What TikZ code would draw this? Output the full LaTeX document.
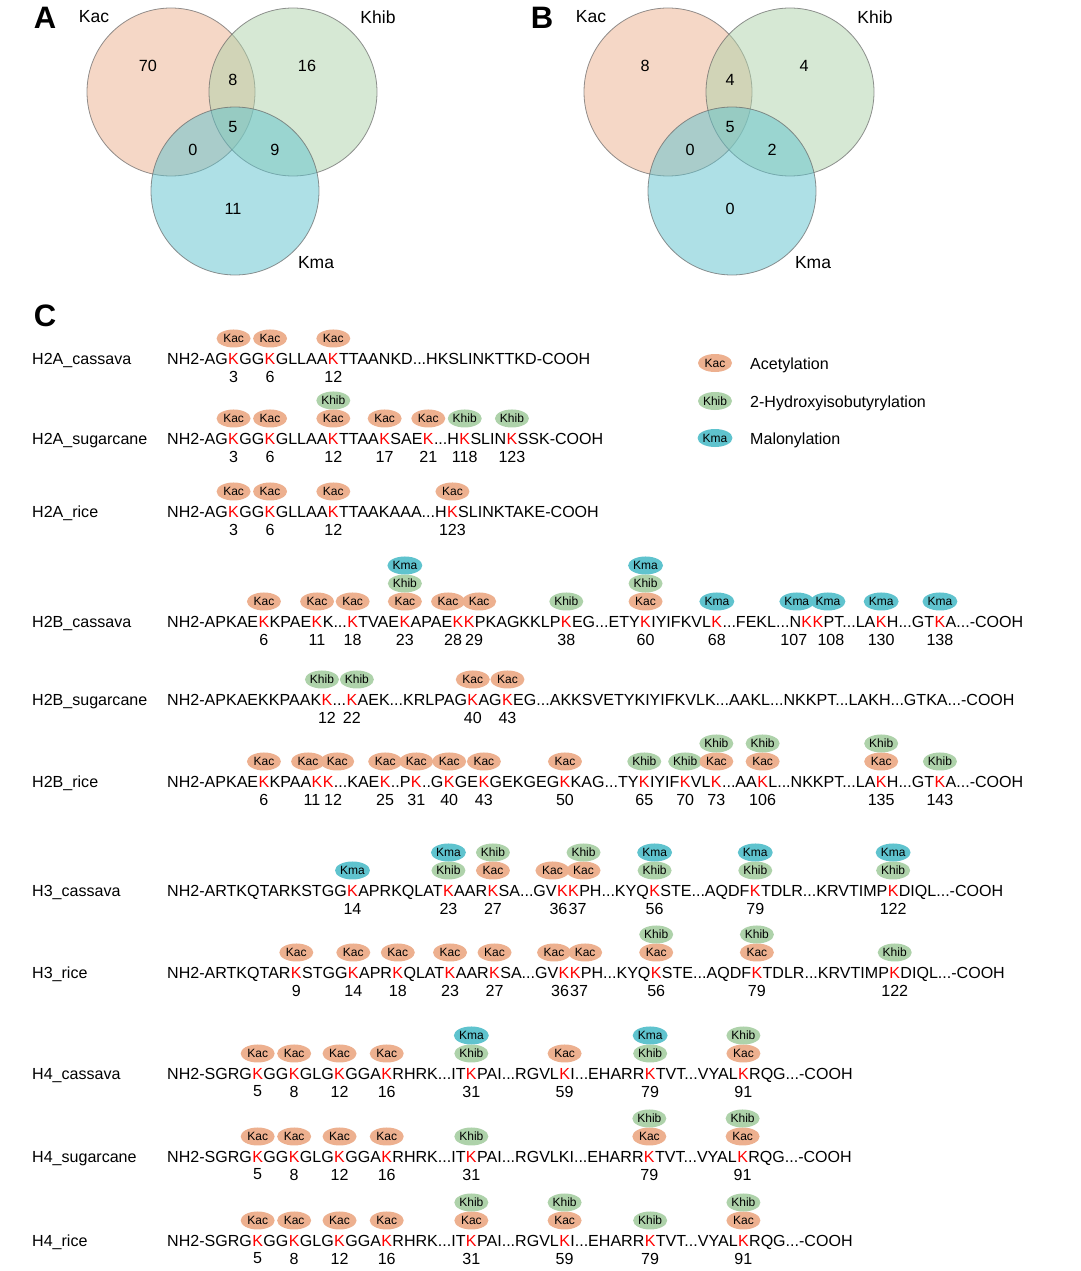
\documentclass[tikz,border=0pt]{standalone}
\usepackage{fontspec}
\setmainfont{Liberation Sans}
\usetikzlibrary{shapes.geometric}

\definecolor{Kac}{HTML}{EDB08F}
\definecolor{Khib}{HTML}{AED2AA}
\definecolor{Kma}{HTML}{5FC3CE}

% one row of panel C: name, then the sequence built piece by piece
\newcommand\seqrow[2]{%
  \node[rowname] (lab) at (32,#1) {#2};
  \coordinate (cur) at (167,#1);}
\newcommand\seqpart[1]{%
  \node[seq] (s) at (cur) {#1};
  \coordinate (cur) at (s.base east);}
% modified lysine: position, marks (bottom to top), shift of marks, shift of number
\newcommand\ksite[4]{%
  \node[seq, text=red] (k) at (cur) {K};
  \coordinate (cur) at (k.base east);
  \node[posnum] (n) at ([xshift=#4pt, yshift=-18pt]k.center) {#1};
  \foreach \mm [count=\i] in {#2}
    \node[mod=\mm] (m) at ([xshift=#3pt, yshift=2pt+\i*18pt]k.center) {\mm};}

\begin{document}
\begin{tikzpicture}[x=1pt, y=-1pt]
\tikzset{
  seq/.style={anchor=base west, inner sep=0pt, font=\fontsize{16.05}{19}\selectfont},
  rowname/.style={seq},
  posnum/.style={inner sep=0pt, font=\fontsize{16.05}{19}\selectfont},
  mod/.style={ellipse, fill=#1, inner sep=0pt, minimum width=34pt, minimum height=18pt,
    font=\fontsize{12}{14}\selectfont},
  venn/.style={fill opacity=0.5, draw=black!60, draw opacity=0.7, line width=0.8pt},
  vnum/.style={font=\fontsize{16.2}{19}\selectfont},
  vlab/.style={font=\fontsize{17.5}{21}\selectfont},
  panel/.style={font=\fontsize{31}{35}\selectfont\bfseries},
}
\fill[white] (0,0) rectangle (1080,1271);

% panels A and B
\foreach \dx/\p/\a/\b/\c/\ab/\bc/\ac/\abc in {0/A/70/16/11/8/9/0/5, 497/B/8/4/0/4/2/0/5} {
  \begin{scope}[xshift=\dx pt]
    \coordinate (cac) at (171,92);
    \coordinate (chib) at (293,92);
    \coordinate (cma) at (235,191);
    \draw[venn, fill=Kac] (cac) circle[radius=84pt];
    \draw[venn, fill=Khib] (chib) circle[radius=84pt];
    \draw[venn, fill=Kma] (cma) circle[radius=84pt];
    \node[panel] (pl) at (45,18) {\p};
    \node[vlab] (la) at (94,17) {Kac};
    \node[vlab] (lb) at (378,17) {Khib};
    \node[vlab] (lc) at (316,263) {Kma};
    \node[vnum] (na) at (148,66) {\a};
    \node[vnum] (nb) at (307,66) {\b};
    \node[vnum] (nc) at (233,209) {\c};
    \node[vnum] (nab) at (233,80) {\ab};
    \node[vnum] (nbc) at (275,150) {\bc};
    \node[vnum] (nac) at (193,150) {\ac};
    \node[vnum] (nabc) at (233,127) {\abc};
  \end{scope}
}

% panel C
\node[panel] (pc) at (45,316) {C};
\foreach \m/\t/\y in {Kac/Acetylation/363, Khib/2-Hydroxyisobutyrylation/401, Kma/Malonylation/438} {
  \node[mod=\m] (lg) at (715,\y) {\m};
  \node[seq] (lt) at (750,\y+6) {\t};
}

\seqrow{364}{H2A\_cassava}
\seqpart{NH2-AG}\ksite{3}{Kac}{0}{0}\seqpart{GG}\ksite{6}{Kac}{0}{0}\seqpart{GLLAA}\ksite{12}{Kac}{0}{0}%
\seqpart{TTAANKD...HKSLINKTTKD-COOH}

\seqrow{444}{H2A\_sugarcane}
\seqpart{NH2-AG}\ksite{3}{Kac}{0}{0}\seqpart{GG}\ksite{6}{Kac}{0}{0}\seqpart{GLLAA}\ksite{12}{Kac,Khib}{0}{0}%
\seqpart{TTAA}\ksite{17}{Kac}{0}{0}\seqpart{SAE}\ksite{21}{Kac}{0}{0}\seqpart{...H}\ksite{118}{Khib}{0}{0}%
\seqpart{SLIN}\ksite{123}{Khib}{0}{0}\seqpart{SSK-COOH}

\seqrow{517}{H2A\_rice}
\seqpart{NH2-AG}\ksite{3}{Kac}{0}{0}\seqpart{GG}\ksite{6}{Kac}{0}{0}\seqpart{GLLAA}\ksite{12}{Kac}{0}{0}%
\seqpart{TTAAKAAA...H}\ksite{123}{Kac}{0}{0}\seqpart{SLINKTAKE-COOH}

\seqrow{627}{H2B\_cassava}
\seqpart{NH2-APKAE}\ksite{6}{Kac}{0}{0}\seqpart{KPAE}\ksite{11}{Kac}{0}{0}\seqpart{K...}\ksite{18}{Kac}{0}{0}%
\seqpart{TVAE}\ksite{23}{Kac,Khib,Kma}{0}{0}\seqpart{APAE}\ksite{28}{Kac}{-10}{-5}\ksite{29}{Kac}{10}{5}%
\seqpart{PKAGKKLP}\ksite{38}{Khib}{0}{0}\seqpart{EG...ETY}\ksite{60}{Kac,Khib,Kma}{0}{0}%
\seqpart{IYIFKVL}\ksite{68}{Kma}{0}{0}\seqpart{...FEKL...N}\ksite{107}{Kma}{-10}{-13}\ksite{108}{Kma}{10}{13}%
\seqpart{PT...LA}\ksite{130}{Kma}{0}{0}\seqpart{H...GT}\ksite{138}{Kma}{0}{0}\seqpart{A...-COOH}

\seqrow{705}{H2B\_sugarcane}
\seqpart{NH2-APKAEKKPAAK}\ksite{12}{Khib}{-5}{0}\seqpart{...}\ksite{22}{Khib}{5}{0}%
\seqpart{AEK...KRLPAG}\ksite{40}{Kac}{0}{0}\seqpart{AG}\ksite{43}{Kac}{0}{0}%
\seqpart{EG...AKKSVETYKIYIFKVLK...AAKL...NKKPT...LAKH...GTKA...-COOH}

\seqrow{787}{H2B\_rice}
\seqpart{NH2-APKAE}\ksite{6}{Kac}{0}{0}\seqpart{KPAA}\ksite{11}{Kac}{-9}{-5}\ksite{12}{Kac}{9}{5}%
\seqpart{...KAE}\ksite{25}{Kac}{0}{0}\seqpart{..P}\ksite{31}{Kac}{0}{0}\seqpart{..G}\ksite{40}{Kac}{0}{0}%
\seqpart{GE}\ksite{43}{Kac}{0}{0}\seqpart{GEKGEG}\ksite{50}{Kac}{0}{0}\seqpart{KAG...TY}\ksite{65}{Khib}{0}{0}%
\seqpart{IYIF}\ksite{70}{Khib}{0}{0}\seqpart{VL}\ksite{73}{Kac,Khib}{0}{0}\seqpart{...AA}\ksite{106}{Kac,Khib}{0}{0}%
\seqpart{L...NKKPT...LA}\ksite{135}{Kac,Khib}{0}{0}\seqpart{H...GT}\ksite{143}{Khib}{0}{0}\seqpart{A...-COOH}

\seqrow{896}{H3\_cassava}
\seqpart{NH2-ARTKQTARKSTGG}\ksite{14}{Kma}{0}{0}\seqpart{APRKQLAT}\ksite{23}{Khib,Kma}{0}{0}%
\seqpart{AAR}\ksite{27}{Kac,Khib}{0}{0}\seqpart{SA...GV}\ksite{36}{Kac}{-10}{-4}\ksite{37}{Kac,Khib}{10}{4}%
\seqpart{PH...KYQ}\ksite{56}{Khib,Kma}{0}{0}\seqpart{STE...AQDF}\ksite{79}{Khib,Kma}{0}{0}%
\seqpart{TDLR...KRVTIMP}\ksite{122}{Khib,Kma}{0}{0}\seqpart{DIQL...-COOH}

\seqrow{978}{H3\_rice}
\seqpart{NH2-ARTKQTAR}\ksite{9}{Kac}{0}{0}\seqpart{STGG}\ksite{14}{Kac}{0}{0}\seqpart{APR}\ksite{18}{Kac}{0}{0}%
\seqpart{QLAT}\ksite{23}{Kac}{0}{0}\seqpart{AAR}\ksite{27}{Kac}{0}{0}\seqpart{SA...GV}\ksite{36}{Kac}{-10}{-4}%
\ksite{37}{Kac}{10}{4}\seqpart{PH...KYQ}\ksite{56}{Kac,Khib}{0}{0}\seqpart{STE...AQDF}\ksite{79}{Kac,Khib}{0}{0}%
\seqpart{TDLR...KRVTIMP}\ksite{122}{Khib}{0}{0}\seqpart{DIQL...-COOH}

\seqrow{1079}{H4\_cassava}
\seqpart{NH2-SGRG}\ksite{5}{Kac}{0}{0}\seqpart{GG}\ksite{8}{Kac}{0}{0}\seqpart{GLG}\ksite{12}{Kac}{0}{0}%
\seqpart{GGA}\ksite{16}{Kac}{0}{0}\seqpart{RHRK...IT}\ksite{31}{Khib,Kma}{0}{0}\seqpart{PAI...RGVL}\ksite{59}{Kac}{0}{0}%
\seqpart{I...EHARR}\ksite{79}{Khib,Kma}{0}{0}\seqpart{TVT...VYAL}\ksite{91}{Kac,Khib}{0}{0}\seqpart{RQG...-COOH}

\seqrow{1162}{H4\_sugarcane}
\seqpart{NH2-SGRG}\ksite{5}{Kac}{0}{0}\seqpart{GG}\ksite{8}{Kac}{0}{0}\seqpart{GLG}\ksite{12}{Kac}{0}{0}%
\seqpart{GGA}\ksite{16}{Kac}{0}{0}\seqpart{RHRK...IT}\ksite{31}{Khib}{0}{0}\seqpart{PAI...RGVLKI...EHARR}%
\ksite{79}{Kac,Khib}{0}{0}\seqpart{TVT...VYAL}\ksite{91}{Kac,Khib}{0}{0}\seqpart{RQG...-COOH}

\seqrow{1246}{H4\_rice}
\seqpart{NH2-SGRG}\ksite{5}{Kac}{0}{0}\seqpart{GG}\ksite{8}{Kac}{0}{0}\seqpart{GLG}\ksite{12}{Kac}{0}{0}%
\seqpart{GGA}\ksite{16}{Kac}{0}{0}\seqpart{RHRK...IT}\ksite{31}{Kac,Khib}{0}{0}\seqpart{PAI...RGVL}\ksite{59}{Kac,Khib}{0}{0}%
\seqpart{I...EHARR}\ksite{79}{Khib}{0}{0}\seqpart{TVT...VYAL}\ksite{91}{Kac,Khib}{0}{0}\seqpart{RQG...-COOH}
\end{tikzpicture}
\end{document}
